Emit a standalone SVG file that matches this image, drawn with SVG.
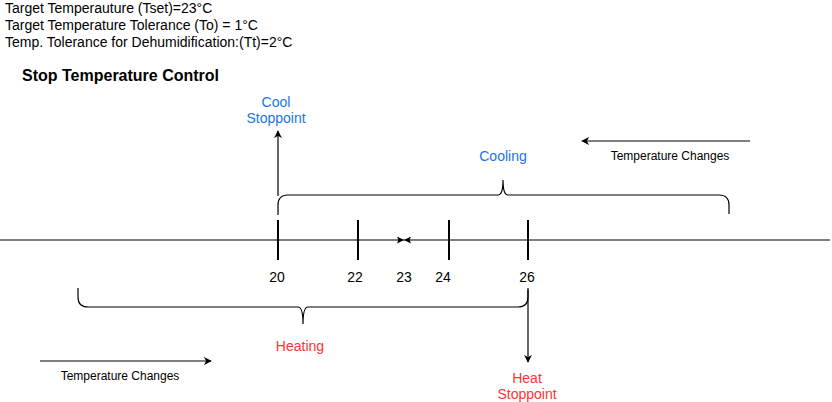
<svg xmlns="http://www.w3.org/2000/svg" width="832" height="402" viewBox="0 0 832 402">
<style>
text{font-family:"Liberation Sans",Arial,sans-serif;}
.hdr{font-size:14px;fill:#000;}
.num{font-size:14px;fill:#000;text-anchor:middle;}
.blue{font-size:14px;fill:#1a73e8;text-anchor:middle;}
.red{font-size:14px;fill:#ff3333;text-anchor:middle;}
.small{font-size:12px;fill:#000;text-anchor:middle;}
.ln{stroke:#000;stroke-width:1.2;fill:none;}
.tick{stroke:#000;stroke-width:2;}
</style>
<defs>
<marker id="ah" viewBox="0 0 10 10" refX="9" refY="5" markerWidth="8" markerHeight="8" orient="auto" markerUnits="userSpaceOnUse">
<path d="M0,0 L10,5 L0,10 L3,5 Z" fill="#000"/>
</marker>
<marker id="bt" viewBox="0 0 10 10" refX="10" refY="5" markerWidth="8" markerHeight="7" orient="auto" markerUnits="userSpaceOnUse">
<path d="M0,0 L10,5 L0,10 L2,5 Z" fill="#000"/>
</marker>
</defs>
<rect width="832" height="402" fill="#fff"/>
<g id="header">
<text class="hdr" x="5" y="13">Target Temperauture (Tset)=23°C</text>
<text class="hdr" x="5" y="30">Target Temperature Tolerance (To) = 1°C</text>
<text class="hdr" x="5" y="47">Temp. Tolerance for Dehumidification:(Tt)=2°C</text>
<text x="22" y="81" style="font-size:16px;font-weight:bold">Stop Temperature Control</text>
</g>
<g id="connectors">
<line class="ln" x1="0" y1="240" x2="404" y2="240" marker-end="url(#bt)"/>
<line class="ln" x1="830" y1="240" x2="404" y2="240" marker-end="url(#bt)"/>
<line class="ln" x1="278" y1="196" x2="278" y2="131" marker-end="url(#ah)"/>
<line class="ln" x1="528" y1="290" x2="528" y2="362" marker-end="url(#ah)"/>
<line class="ln" x1="750" y1="141" x2="582" y2="141" marker-end="url(#ah)"/>
<line class="ln" x1="40" y1="361" x2="211" y2="361" marker-end="url(#ah)"/>
</g>
<g id="ticks">
<line class="tick" x1="278" y1="220" x2="278" y2="260"/>
<line class="tick" x1="358" y1="220" x2="358" y2="260"/>
<line class="tick" x1="449" y1="220" x2="449" y2="260"/>
<line class="tick" x1="528" y1="220" x2="528" y2="260"/>
</g>
<g id="labels">
<text class="num" x="277" y="282">20</text>
<text class="num" x="355" y="282">22</text>
<text class="num" x="404" y="282">23</text>
<text class="num" x="443" y="282">24</text>
<text class="num" x="527" y="282">26</text>
</g>
<g id="cooling-brace">
<path class="ln" d="M278,215 L278,205 Q278,195 288,195 L498,195 Q503,195 503,180 Q503,195 508,195 L719,195 Q729,195 729,205 L729,214"/>
<text class="blue" x="503" y="161">Cooling</text>
</g>
<g id="heating-brace">
<path class="ln" d="M78,288 L78,297 Q78,307 88,307 L298,307 Q303,307 303,324 Q303,307 308,307 L518,307 Q528,307 528,297 L528,288"/>
<text class="red" x="300" y="351">Heating</text>
</g>
<g id="cool-stoppoint">
<text class="blue" x="276" y="107">Cool</text>
<text class="blue" x="276" y="123">Stoppoint</text>
</g>
<g id="heat-stoppoint">
<text class="red" x="527" y="383">Heat</text>
<text class="red" x="527" y="399">Stoppoint</text>
</g>
<g id="temp-changes">
<text class="small" x="670" y="160">Temperature Changes</text>
<text class="small" x="120" y="380">Temperature Changes</text>
</g>
</svg>
